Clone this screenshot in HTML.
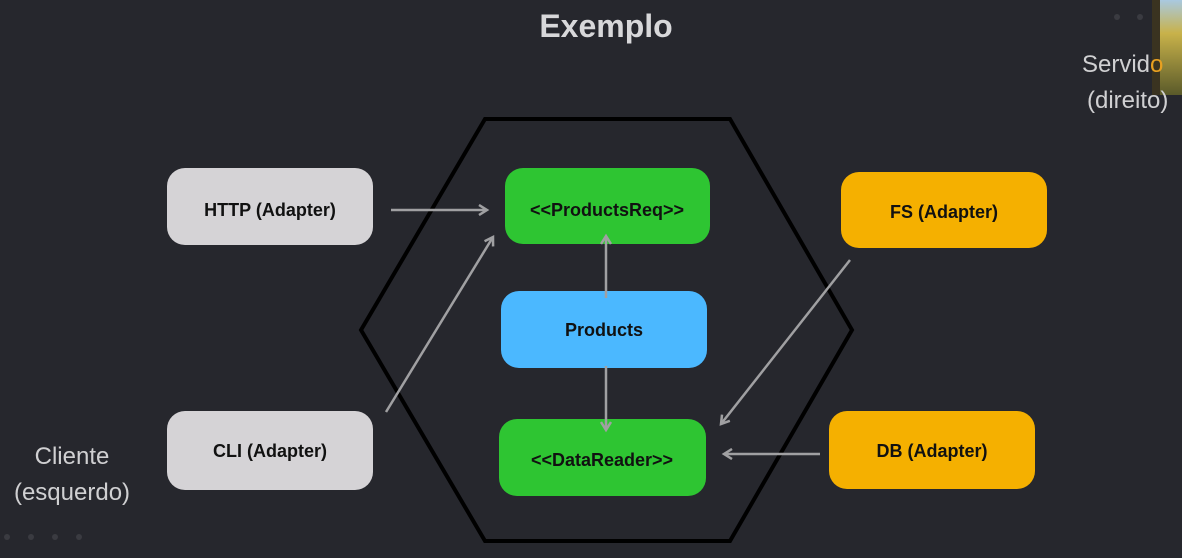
<!DOCTYPE html>
<html><head><meta charset="utf-8"><style>
html,body{margin:0;padding:0;background:#26272d;}
svg{display:block;}
text{font-family:"Liberation Sans",Arial,sans-serif;}
</style></head><body>
<svg width="1182" height="558" viewBox="0 0 1182 558" xmlns="http://www.w3.org/2000/svg">
<defs>
<marker id="ah" markerWidth="12" markerHeight="12" refX="9" refY="6" orient="auto" markerUnits="userSpaceOnUse">
<path d="M1,1 L9,6 L1,11" fill="none" stroke="#a0a0a2" stroke-width="2.5"/>
</marker>
<linearGradient id="ph" x1="0" y1="0" x2="0" y2="1">
<stop offset="0" stop-color="#a9c9e0"/><stop offset="0.35" stop-color="#c8b24a"/><stop offset="1" stop-color="#5a5a2a"/>
</linearGradient>
</defs>
<rect width="1182" height="558" fill="#26272d"/>
<rect x="1153" y="0" width="29" height="95" fill="url(#ph)"/>
<rect x="1152" y="0" width="8" height="95" fill="#3a3320"/>
<g fill="#3a3b41">
<circle cx="1117" cy="17" r="3"/><circle cx="1140" cy="17" r="3"/>
<circle cx="7" cy="537" r="3"/><circle cx="31" cy="537" r="3"/><circle cx="55" cy="537" r="3"/><circle cx="79" cy="537" r="3"/>
</g>
<text x="606" y="37" text-anchor="middle" font-size="32" font-weight="bold" fill="#d8d8da">Exemplo</text>
<text x="1082" y="72" font-size="24" fill="#d0d0d2">Servid<tspan fill="#e8a020">o</tspan></text>
<text x="1087" y="108" font-size="24" fill="#d0d0d2">(direito)</text>
<text x="72" y="464" text-anchor="middle" font-size="24" fill="#d0d0d2">Cliente</text>
<text x="72" y="500" text-anchor="middle" font-size="24" fill="#d0d0d2">(esquerdo)</text>
<polygon points="485,119 730,119 852,330 730,541 485,541 361,330" fill="none" stroke="#000" stroke-width="4"/>
<g stroke="#a0a0a2" stroke-width="2.5" fill="none" marker-end="url(#ah)">
<line x1="391" y1="210" x2="487" y2="210"/>
<line x1="386" y1="412" x2="493" y2="237"/>
<line x1="850" y1="260" x2="721" y2="424"/>
<line x1="820" y1="454" x2="724" y2="454"/>
</g>
<g font-size="18" font-weight="bold" fill="#111" text-anchor="middle">
<rect x="167" y="168" width="206" height="77" rx="18" fill="#d5d3d6"/>
<text x="270" y="216">HTTP (Adapter)</text>
<rect x="167" y="411" width="206" height="79" rx="18" fill="#d5d3d6"/>
<text x="270" y="457">CLI (Adapter)</text>
<rect x="505" y="168" width="205" height="76" rx="18" fill="#2ec532"/>
<text x="607" y="216">&lt;&lt;ProductsReq&gt;&gt;</text>
<rect x="501" y="291" width="206" height="77" rx="18" fill="#4bb8ff"/>
<text x="604" y="336">Products</text>
<rect x="499" y="419" width="207" height="77" rx="18" fill="#2ec532"/>
<text x="602" y="466">&lt;&lt;DataReader&gt;&gt;</text>
<rect x="841" y="172" width="206" height="76" rx="18" fill="#f5b000"/>
<text x="944" y="218">FS (Adapter)</text>
<rect x="829" y="411" width="206" height="78" rx="18" fill="#f5b000"/>
<text x="932" y="457">DB (Adapter)</text>
</g>
<g stroke="#a0a0a2" stroke-width="2.5" fill="none" marker-end="url(#ah)">
<line x1="606" y1="298" x2="606" y2="236"/>
<line x1="606" y1="366" x2="606" y2="430"/>
</g>
</svg>
</body></html>
